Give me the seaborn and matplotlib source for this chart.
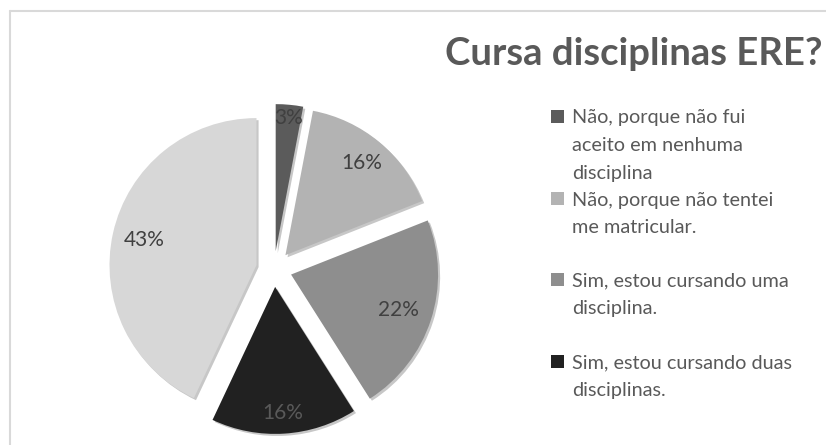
import numpy as np
import matplotlib.pyplot as plt
import matplotlib.patheffects as pe
from matplotlib.patches import Rectangle
from matplotlib.lines import Line2D
import seaborn as sns

## Data
categories = [
    "Não, porque não fui\naceito em nenhuma\ndisciplina",
    "Não, porque não tentei\nme matricular.",
    "Sim, estou cursando uma\ndisciplina.",
    "Sim, estou cursando duas\ndisciplinas.",
    "",  # fifth slice: legend entry cut off in the original
]
values = [3, 16, 22, 16, 43]
colors = ["#5b5b5b", "#b3b3b3", "#8e8e8e", "#212121", "#d7d7d7"]
pct_colors = ["#404040", "#404040", "#404040", "#595959", "#404040"]
pct_dist = [0.91, 0.81, 0.77, 0.86, 0.78]
title = "Cursa disciplinas ERE?"

sns.set_theme(style="white")
plt.rcParams["font.family"] = ["Lato", "DejaVu Sans"]

W, H = 826, 445
fig = plt.figure(figsize=(W / 100, H / 100), dpi=100)
fig.patch.set_facecolor("white")

## Pie axes, square box centred on the pie
R_PX = 147
L = 1.2
cx, cy = 274, H - 269
half = L * R_PX
ax = fig.add_axes([(cx - half) / W, (cy - half) / H, 2 * half / W, 2 * half / H])

shadow = [pe.withSimplePatchShadow(offset=(1.5, -1.5), shadow_rgbFace="#000000", alpha=0.22)]
wedges, _, autotexts = ax.pie(
    values,
    colors=colors,
    explode=[0.122] * len(values),
    startangle=90,
    counterclock=False,
    autopct="%.0f%%",
    wedgeprops=dict(linewidth=0, path_effects=shadow),
    textprops=dict(fontsize=15, color="#404040"),
)
for w, t, d, c in zip(wedges, autotexts, pct_dist, pct_colors):
    mid = np.deg2rad((w.theta1 + w.theta2) / 2)
    x0, y0 = w.center
    t.set_position((x0 + d * w.r * np.cos(mid), y0 + d * w.r * np.sin(mid)))
    t.set_color(c)
ax.set_xlim(-L, L)
ax.set_ylim(-L, L)
ax.axis("off")

## Title
fig.text(445 / W, 1 - 65 / H, title, fontsize=27.5, fontweight="bold",
         color="#595959", va="baseline", ha="left")

## Legend (Excel-style, irregular spacing)
baselines = [[123, 151, 179], [206, 233], [286, 314], [368, 396]]
for i, lines_y in enumerate(baselines):
    label_lines = categories[i].split("\n")
    for txt, yb in zip(label_lines, lines_y):
        fig.text(572 / W, 1 - yb / H, txt, fontsize=14.3, color="#595959",
                 va="baseline", ha="left")
    my = lines_y[0] - 7
    fig.patches.append(Rectangle(((551) / W, 1 - (my + 6.5) / H), 13 / W, 13 / H,
                                 transform=fig.transFigure, facecolor=colors[i],
                                 edgecolor="none"))

## Chart area border (top and left visible)
fig.lines.append(Line2D([10 / W, 1], [1 - 11 / H, 1 - 11 / H], transform=fig.transFigure,
                        color="#d9d9d9", linewidth=1.5))
fig.lines.append(Line2D([10 / W, 10 / W], [0, 1 - 11 / H], transform=fig.transFigure,
                        color="#d9d9d9", linewidth=1.5))

fig.savefig("out.png", dpi=100)
